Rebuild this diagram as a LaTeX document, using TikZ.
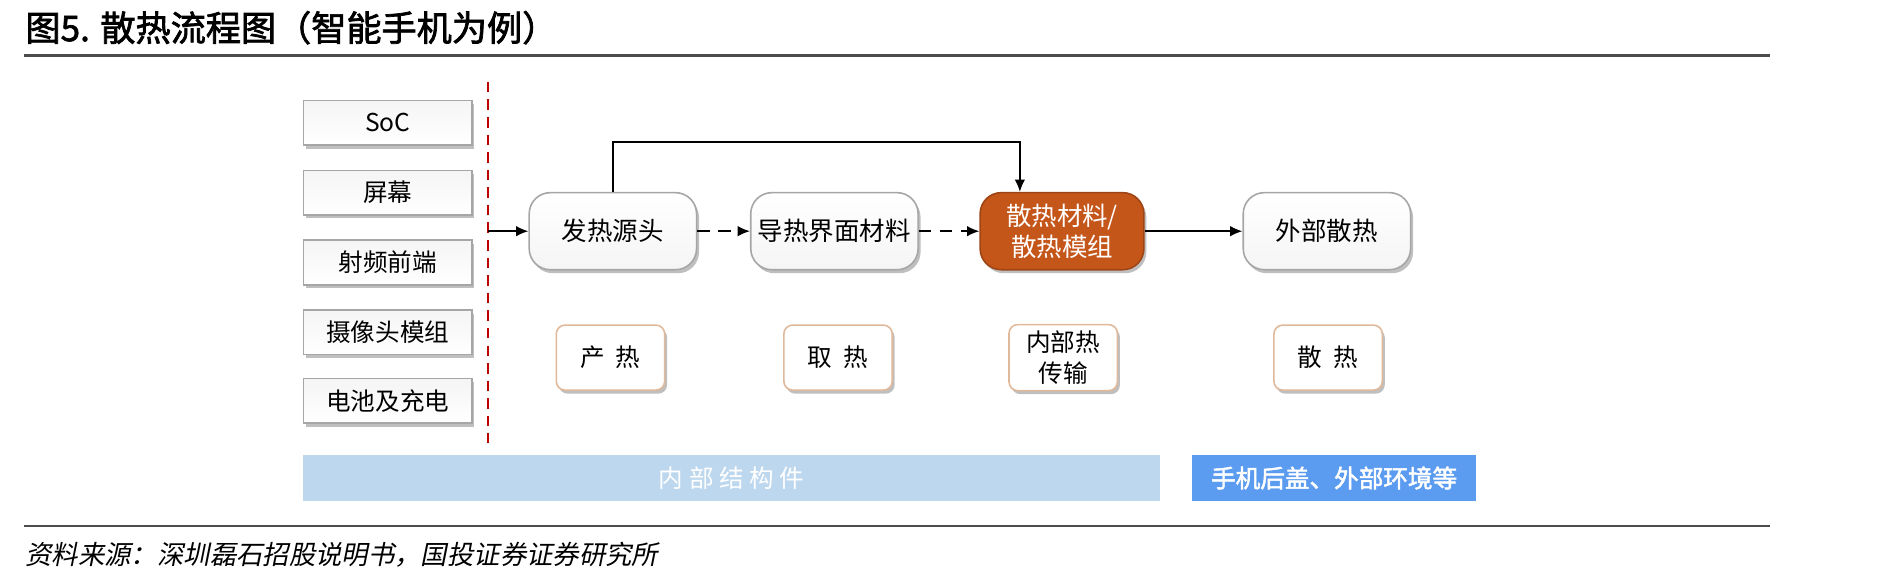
\documentclass[tikz,border=0pt]{standalone}
\usepackage{fontspec}
\setmainfont{Noto Sans CJK SC}
\newfontfamily\cjk{Noto Sans CJK SC}
\newfontfamily\cjkit[FakeSlant=0.2]{Noto Sans CJK SC}
\newfontfamily\cjkb[FakeBold=2]{Noto Sans CJK SC}
\usetikzlibrary{arrows.meta}
\definecolor{orng}{HTML}{C5561A}
\definecolor{lblue}{HTML}{BDD7EE}
\definecolor{dblue}{HTML}{5B9BF0}
\definecolor{tanb}{HTML}{E0B89A}
\def\u{0.02408cm}
\begin{document}
\begin{tikzpicture}[x=0.02408cm,y=-0.02408cm,
  shad/.style={preaction={draw=none,fill=black!25,transform canvas={shift={(1.4pt,-2pt)}}}},
  src/.style={shad,draw=gray!70,line width=0.9pt,top color=gray!8,bottom color=white,minimum width=140*\u,minimum height=37*\u,font=\fontsize{14}{16}\selectfont},
  main/.style={shad,draw=gray!70,line width=0.9pt,rounded corners=12pt,top color=white,bottom color=gray!8,minimum width=139*\u,minimum height=64*\u,font=\fontsize{14.5}{18}\selectfont,align=center},
  sm/.style={shad,draw=tanb,line width=0.9pt,rounded corners=5pt,fill=white,minimum width=90*\u,minimum height=54*\u,font=\fontsize{14}{18}\selectfont,align=center},
  arr/.style={-{Latex[length=7pt,width=6pt]},line width=0.9pt},
  darr/.style={arr,dash pattern=on 7pt off 5pt}]
\useasboundingbox (0,0) rectangle (1568,482.6);
\node[anchor=west,font=\cjkb\fontsize{20}{24}\selectfont] (title) at (16,23) {图5. 散热流程图（智能手机为例）};
\draw[line width=1.4pt,gray!60!black] (20,46) -- (1470,46);
\draw[line width=1.4pt,gray!60!black] (20,437) -- (1470,437);
\node[anchor=west,font=\cjkit\fontsize{15}{18}\selectfont] (foot) at (16,461) {资料来源：深圳磊石招股说明书，国投证券证券研究所};
\foreach \n/\t/\y in {a/SoC/102,b/屏幕/160,c/射频前端/218,d/摄像头模组/276,e/电池及充电/333}
  \node[src] (\n) at (322,\y) {\t};
\draw[red!75!black,line width=1pt,dash pattern=on 6pt off 4pt] (405,68) -- (405,368);
\coordinate (in) at (405,192);
\node[main] (m1) at (509,192) {发热源头};
\node[main] (m2) at (693,192) {导热界面材料};
\node[main,fill=orng,top color=orng,bottom color=orng,draw=orng!80!black,text=white,minimum width=136*\u] (m3) at (882,192) {散热材料/\\散热模组};
\node[main] (m4) at (1102,192) {外部散热};
\draw[arr] (in) -- (m1);
\draw[darr] (m1) -- (m2);
\draw[darr] (m2) -- (m3);
\draw[arr] (m3) -- (m4);
\coordinate (t1) at (509,118);
\coordinate (t2) at (847,118);
\draw[arr] (m1.north) -- (t1) -- (t2) -- (m3.north -| t2);
\node[sm] (s1) at (507,297) {产\ \ 热};
\node[sm] (s2) at (696,297) {取\ \ 热};
\node[sm] (s3) at (883,297) {内部热\\传输};
\node[sm] (s4) at (1103,297) {散\ \ 热};
\node[fill=lblue,minimum width=711*\u,minimum height=38*\u,text=white,font=\fontsize{14}{16}\selectfont] (bar1) at (607.5,397) {内\ 部\ 结\ 构\ 件};
\node[fill=dblue,minimum width=236*\u,minimum height=38*\u,text=white,font=\cjkb\fontsize{14}{16}\selectfont] (bar2) at (1108,397) {手机后盖、外部环境等};
\end{tikzpicture}
\end{document}
